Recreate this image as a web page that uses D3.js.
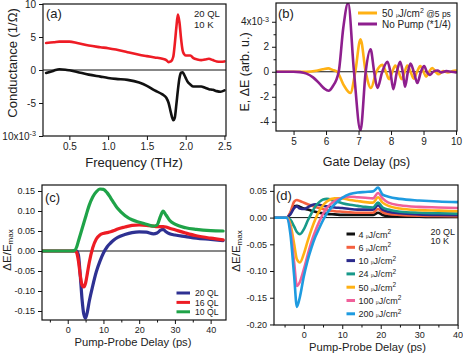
<!DOCTYPE html>
<html><head><meta charset="utf-8">
<script src="https://cdn.jsdelivr.net/npm/d3@7"></script>
<style>
body{margin:0;background:#fff}
svg{display:block}
text{font-family:"Liberation Sans",Arial,Helvetica,sans-serif;fill:#222}
</style>
</head><body>
<svg id="chart" width="463" height="356"></svg>
<script>
// ---------- Panel (a): conductance vs frequency (units 1e-3 1/Ω) ----------
const freqA = [0.2,0.3,0.37,0.45,0.5,0.6,0.75,0.9,1.0,1.1,1.25,1.4,1.5,1.6,1.7,1.75,1.78,1.81,1.84,1.86,1.88,1.9,1.92,1.94,1.96,1.98,2.0,2.02,2.06,2.1,2.15,2.2,2.25,2.3,2.35,2.4,2.45,2.5];
const condRed = [4.1,4.2,4.3,4.3,4.3,4.1,3.7,3.45,3.3,3.1,2.7,2.3,2.1,1.9,1.7,1.5,1.2,1.3,2.0,4.0,6.5,8.4,7.2,4.8,3.0,2.4,2.2,2.2,2.2,1.8,1.6,1.5,1.6,1.7,1.5,1.3,1.25,1.3];
const condBlack = [-0.45,-0.1,0.12,0.05,-0.05,-0.3,-0.7,-1.0,-1.2,-1.35,-1.5,-1.9,-2.4,-3.1,-3.7,-4.2,-5.0,-6.5,-7.6,-7.2,-5.2,-3.0,-1.2,-0.4,-0.35,-0.7,-1.2,-1.7,-2.2,-2.5,-2.5,-2.5,-2.7,-2.9,-3.0,-3.2,-3.3,-3.1];
const ticksAx = [0.5,1.0,1.5,2.0,2.5];
const ticksAy = [-10,-5,0,5,10];

// ---------- Panel (b): field vs gate delay (units 1e-3) ----------
const gateOrange = [4.45,5.4,5.7,5.9,6.07,6.2,6.34,6.55,6.75,6.9,7.06,7.22,7.38,7.55,7.73,7.84,7.94,8.04,8.13,8.23,8.33,8.42,8.5,8.6,8.7,8.8,8.9,9.0,9.08,9.17,9.27,9.37,9.47,9.6,9.75,9.9,10.0];
const fieldOrange = [0,0,0.08,0.2,0.27,0.15,0,-1.1,-1.7,0,2.6,0,-1.3,0,0.55,0,-0.6,0,0.5,0,-0.6,0,0.5,0,-0.55,0,0.45,0,-0.4,0,0.3,0,-0.2,0.05,-0.05,0.05,0.1];
const gatePurple = [4.45,5.0,5.2,5.4,5.6,5.8,5.95,6.08,6.2,6.39,6.53,6.68,6.86,7.06,7.22,7.37,7.48,7.58,7.73,7.89,7.98,8.07,8.18,8.28,8.36,8.43,8.52,8.6,8.7,8.81,8.92,9.02,9.1,9.2,9.3,9.43,9.55,9.7,9.85,10.0];
const fieldPurple = [0,0,-0.03,-0.15,-0.45,-0.95,-1.35,-1.52,-1.2,0,3.5,5.5,0,-4.7,0,1.8,0,-1.3,0,0.8,0,-1.4,0,0.8,0,-1.2,0,0.65,0,-0.9,0,0.45,0,-0.25,0,0.1,-0.05,0.05,0,-0.05];
const legendB = ["50 μJ/cm² @5 ps","No Pump (*1/4)"];
const ticksBx = [5,6,7,8,9,10];
const ticksBy = [-4,-2,0,2,4];

// ---------- Panel (c): thickness dependence ----------
const delayC = [-7,1,2,2.5,3,3.5,4,4.5,5,5.5,6,7,8,9,10,11,12,13,14,16,18,20,22,24,25,26,26.7,27.5,28.5,30,33,36,40,43.5];
const ql20 = [0,0,0,0,-0.01,-0.06,-0.12,-0.158,-0.168,-0.152,-0.127,-0.087,-0.052,-0.026,-0.005,0.01,0.02,0.028,0.034,0.041,0.046,0.048,0.047,0.043,0.045,0.052,0.054,0.048,0.043,0.04,0.036,0.032,0.029,0.026];
const ql16 = [0,0,0,-0.004,-0.025,-0.06,-0.085,-0.09,-0.08,-0.056,-0.03,0.008,0.03,0.04,0.044,0.046,0.048,0.051,0.055,0.06,0.064,0.065,0.064,0.062,0.061,0.061,0.061,0.06,0.057,0.053,0.045,0.038,0.032,0.028];
const ql10 = [0,0,0.002,0.01,0.025,0.04,0.055,0.07,0.085,0.1,0.114,0.135,0.148,0.155,0.154,0.146,0.133,0.119,0.106,0.089,0.078,0.072,0.067,0.062,0.065,0.088,0.1,0.09,0.077,0.067,0.058,0.054,0.051,0.05];
const legendC = ["20 QL","16 QL","10 QL"];
const ticksCx = [0,10,20,30,40];
const ticksCy = [-0.15,-0.10,-0.05,0,0.05,0.10,0.15];

// ---------- Panel (d): fluence dependence ----------
const delayD = [-7.5,-4.5,-3.5,-2.5,-1.8,-1,0,1,2,3,4,5,6,8,10,12,14,16,18,19.3,20.5,22,25,30,35,40];
const f4 = [0,0,0.008,0.021,0.022,0.02,0.017,0.015,0.013,0.011,0.009,0.008,0.007,0.006,0.005,0.005,0.005,0.005,0.005,0.009,0.005,0.003,0.002,0.0015,0.001,0.001];
const f6 = [0,0,0.01,0.03,0.033,0.031,0.028,0.025,0.022,0.02,0.018,0.016,0.014,0.012,0.011,0.01,0.009,0.009,0.009,0.016,0.01,0.007,0.005,0.0035,0.003,0.0026];
const f10 = [0,0,0.006,0.018,0.021,0.017,0.016,0.019,0.023,0.025,0.024,0.022,0.021,0.019,0.018,0.016,0.015,0.015,0.015,0.023,0.015,0.011,0.008,0.006,0.005,0.0045];
const f24 = [0,0,-0.004,-0.017,-0.027,-0.031,-0.022,-0.006,0.008,0.021,0.029,0.034,0.035,0.031,0.027,0.024,0.022,0.02,0.019,0.028,0.019,0.015,0.011,0.009,0.008,0.0075];
const f50 = [0,0,-0.012,-0.05,-0.078,-0.084,-0.068,-0.044,-0.022,-0.003,0.012,0.023,0.03,0.036,0.036,0.033,0.031,0.029,0.028,0.038,0.028,0.022,0.017,0.014,0.013,0.012];
const f100 = [0,0,-0.02,-0.085,-0.128,-0.12,-0.097,-0.07,-0.045,-0.025,-0.008,0.007,0.018,0.031,0.037,0.039,0.038,0.037,0.036,0.046,0.036,0.028,0.023,0.02,0.019,0.018];
const f200 = [0,0,-0.03,-0.11,-0.167,-0.148,-0.11,-0.08,-0.056,-0.036,-0.02,-0.005,0.008,0.025,0.037,0.044,0.047,0.048,0.049,0.056,0.043,0.039,0.035,0.032,0.03,0.029];
const fluences = ["4","6","10","24","50","100","200"];
const ticksDx = [0,10,20,30,40];
const ticksDy = [-0.20,-0.15,-0.10,-0.05,0,0.05];

// ---------- drawing ----------
const svg = d3.select("#chart");
let clipN = 0;

function panel(o) {
  const g = svg.append("g");
  const x = d3.scaleLinear().domain(o.xd).range([o.x0, o.x1]);
  const y = d3.scaleLinear().domain(o.yd).range([o.y1, o.y0]);
  const id = "clip" + (clipN++);
  svg.append("clipPath").attr("id", id).append("rect")
    .attr("x", o.x0).attr("y", o.y0).attr("width", o.x1 - o.x0).attr("height", o.y1 - o.y0);
  g.append("line").attr("x1", o.x0).attr("x2", o.x1).attr("y1", y(0)).attr("y2", y(0))
    .attr("stroke", "#111").attr("stroke-width", 1);
  const plot = g.append("g").attr("clip-path", `url(#${id})`);
  const line = d3.line().x(d => x(d[0])).y(d => y(d[1])).curve(d3.curveMonotoneX);
  o.series.forEach(s => {
    plot.append("path").attr("d", line(d3.zip(s.x, s.y)))
      .attr("fill", "none").attr("stroke", s.color).attr("stroke-width", o.lw)
      .attr("stroke-linejoin", "round").attr("stroke-linecap", "round");
  });
  if (o.xminor) {
    g.append("g").attr("transform", `translate(0,${o.y1})`)
      .call(d3.axisBottom(x).tickValues(o.xminor).tickSize(2.5).tickFormat(""))
      .call(a => a.select(".domain").remove());
  }
  if (o.yminor) {
    g.append("g").attr("transform", `translate(${o.x0},0)`)
      .call(d3.axisLeft(y).tickValues(o.yminor).tickSize(2.5).tickFormat(""))
      .call(a => a.select(".domain").remove());
  }
  const ax = g.append("g").attr("transform", `translate(0,${o.y1})`)
    .call(d3.axisBottom(x).tickValues(o.xt).tickSize(4).tickPadding(3).tickFormat(o.xf));
  ax.select(".domain").remove();
  ax.selectAll("text").attr("font-size", o.tfs).attr("fill", "#222").style("font-family", null);
  const ay = g.append("g").attr("transform", `translate(${o.x0},0)`)
    .call(d3.axisLeft(y).tickValues(o.yt).tickSize(4).tickPadding(3).tickFormat(o.yf));
  ay.select(".domain").remove();
  ay.selectAll("text").attr("font-size", o.tfs).attr("fill", "#222").style("font-family", null);
  if (o.ysup) {
    ay.selectAll(".tick").filter(d => d === o.ysup.v).select("text")
      .text(o.ysup.base)
      .append("tspan").attr("dy", "-0.45em").attr("font-size", o.tfs * 0.72).text("-3");
  }
  g.selectAll(".tick line").attr("stroke", "#111");
  g.append("rect").attr("x", o.x0).attr("y", o.y0).attr("width", o.x1 - o.x0).attr("height", o.y1 - o.y0)
    .attr("fill", "none").attr("stroke", "#111").attr("stroke-width", 1.2);
  g.append("text").attr("x", o.lab[0]).attr("y", o.lab[1]).attr("font-size", 13).text(o.label);
  return {g, x, y};
}

// (a)
const A = panel({
  x0: 43, x1: 226, y0: 4, y1: 136, xd: [0.16, 2.52], yd: [-10, 10],
  xt: ticksAx, yt: ticksAy, xf: d => d.toFixed(1), yf: d => String(d), tfs: 10,
  ysup: {v: -10, base: "10x10"}, lw: 2.6,
  series: [{x: freqA, y: condRed, color: "#ee1c25"}, {x: freqA, y: condBlack, color: "#111"}],
  label: "(a)", lab: [46, 18]
});
A.g.append("text").attr("x", 194).attr("y", 17).attr("font-size", 9.5).text("20 QL");
A.g.append("text").attr("x", 194).attr("y", 28).attr("font-size", 9.5).text("10 K");
A.g.append("text").attr("x", 134).attr("y", 166.5).attr("text-anchor", "middle").attr("font-size", 13).text("Frequency (THz)");
A.g.append("text").attr("transform", "translate(17,63) rotate(-90)").attr("text-anchor", "middle").attr("font-size", 13).text("Conductance (1/Ω)");

// (b)
const B = panel({
  x0: 276, x1: 457, y0: 3, y1: 131, xd: [4.46, 10.03], yd: [-4.74, 5.5],
  xt: ticksBx, yt: ticksBy, xf: d => String(d), yf: d => String(d), tfs: 10,
  yminor: [-3, -1, 1, 3], ysup: {v: 4, base: "4x10"}, lw: 2.6,
  series: [{x: gateOrange, y: fieldOrange, color: "#ffb114"}, {x: gatePurple, y: fieldPurple, color: "#8e1f8e"}],
  label: "(b)", lab: [278, 18]
});
const legBcol = ["#ffb114", "#8e1f8e"];
legendB.forEach((t, i) => {
  const yy = 13 + i * 11;
  B.g.append("line").attr("x1", 358).attr("x2", 377).attr("y1", yy).attr("y2", yy)
    .attr("stroke", legBcol[i]).attr("stroke-width", 3);
  const tx = B.g.append("text").attr("x", 382).attr("y", yy + 3.5).attr("font-size", 10);
  if (i === 0) {
    tx.append("tspan").text("50 ");
    tx.append("tspan").attr("font-size", 5).text("μ");
    tx.append("tspan").text("J/cm");
    tx.append("tspan").attr("dy", "-0.5em").attr("font-size", 7).text("2");
    tx.append("tspan").attr("dy", "0.5em").attr("font-size", 8.5).text(" @5 ps");
  } else tx.text(t);
});
B.g.append("text").attr("x", 366.5).attr("y", 166).attr("text-anchor", "middle").attr("font-size", 12.5).text("Gate Delay (ps)");
B.g.append("text").attr("transform", "translate(249,72) rotate(-90)").attr("text-anchor", "middle").attr("font-size", 12.5).text("E, ΔE (arb. u.)");

// (c)
const C = panel({
  x0: 42, x1: 226, y0: 185, y1: 320, xd: [-7.2, 44.3], yd: [-0.1725, 0.165],
  xt: ticksCx, yt: ticksCy, xf: d => String(d), yf: d => d.toFixed(2), tfs: 9,
  xminor: [-5, 5, 15, 25, 35], lw: 3.2,
  series: [{x: delayC, y: ql20, color: "#2e3192"}, {x: delayC, y: ql16, color: "#ed1c24"}, {x: delayC, y: ql10, color: "#1fa348"}],
  label: "(c)", lab: [45, 202]
});
const legCcol = ["#2e3192", "#ed1c24", "#1fa348"];
legendC.forEach((t, i) => {
  const yy = 293 + i * 9.4;
  C.g.append("line").attr("x1", 176.5).attr("x2", 190).attr("y1", yy).attr("y2", yy)
    .attr("stroke", legCcol[i]).attr("stroke-width", 3);
  C.g.append("text").attr("x", 195).attr("y", yy + 3.2).attr("font-size", 8.6).text(t);
});
C.g.append("text").attr("x", 133).attr("y", 346).attr("text-anchor", "middle").attr("font-size", 11.2).text("Pump-Probe Delay (ps)");
function ylabelDE(g, x, yc) {
  const t = g.append("text").attr("transform", `translate(${x},${yc}) rotate(-90)`).attr("text-anchor", "middle").attr("font-size", 11.5);
  t.append("tspan").text("ΔE/E");
  t.append("tspan").attr("dy", "0.3em").attr("font-size", 8).text("max");
}
ylabelDE(C.g, 11, 250);

// (d)
const colD = ["#111111", "#f5603f", "#2b2a8c", "#17998a", "#ffb114", "#f0609a", "#1e9be0"];
const valsD = [f4, f6, f10, f24, f50, f100, f200];
const D = panel({
  x0: 274, x1: 458, y0: 185, y1: 325, xd: [-7.75, 40.1], yd: [-0.201, 0.061],
  xt: ticksDx, yt: ticksDy, xf: d => String(d), yf: d => d.toFixed(2), tfs: 9,
  xminor: [-5, 5, 15, 25, 35], lw: 2.6,
  series: valsD.map((v, i) => ({x: delayD, y: v, color: colD[i]})),
  label: "(d)", lab: [276, 200]
});
fluences.forEach((t, i) => {
  const yy = 234 + i * 13.3;
  D.g.append("line").attr("x1", 346.5).attr("x2", 355).attr("y1", yy).attr("y2", yy)
    .attr("stroke", colD[i]).attr("stroke-width", 3);
  const tx = D.g.append("text").attr("x", 358.5).attr("y", yy + 3.5).attr("font-size", 9);
  tx.append("tspan").text(t + " ");
  tx.append("tspan").attr("font-size", 4.5).text("μ");
  tx.append("tspan").text("J/cm");
  tx.append("tspan").attr("dy", "-0.55em").attr("font-size", 6.5).text("2");
});
D.g.append("text").attr("x", 430.5).attr("y", 235).attr("font-size", 9).text("20 QL");
D.g.append("text").attr("x", 430.5).attr("y", 244).attr("font-size", 9).text("10 K");
D.g.append("text").attr("x", 367.5).attr("y", 350.5).attr("text-anchor", "middle").attr("font-size", 11.2).text("Pump-Probe Delay (ps)");
ylabelDE(D.g, 240, 251);
</script>
</body></html>
